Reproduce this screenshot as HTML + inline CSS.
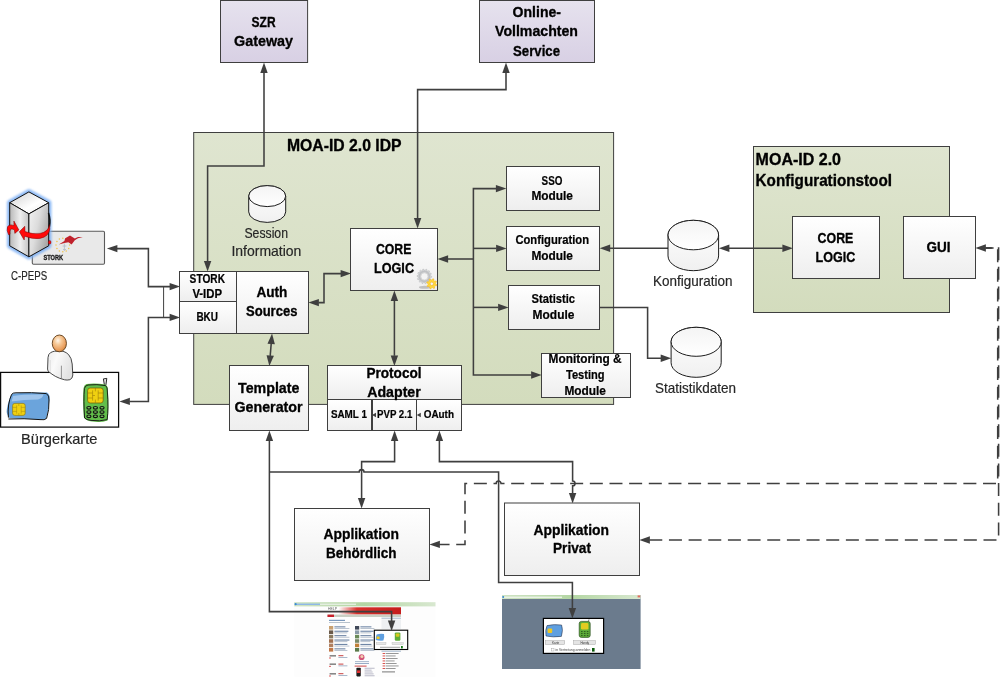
<!DOCTYPE html>
<html lang="de">
<head>
<meta charset="utf-8">
<title>MOA-ID 2.0 Architektur</title>
<style>
html,body{margin:0;padding:0;background:#fff;}
body{width:1000px;height:678px;overflow:hidden;}
svg{display:block;font-family:"Liberation Sans",sans-serif;}
svg text{opacity:.999}
</style>
</head>
<body>
<svg width="1000" height="678" viewBox="0 0 1000 678">
<defs>
<linearGradient id="ggreen" x1="0" y1="0" x2="0" y2="1"><stop offset="0" stop-color="#dfe5d0"/><stop offset="1" stop-color="#d3dcbd"/></linearGradient>
<linearGradient id="gpurple" x1="0" y1="0" x2="0" y2="1"><stop offset="0" stop-color="#e6e2ee"/><stop offset="1" stop-color="#d8d0e4"/></linearGradient>
<linearGradient id="gwhite" x1="0" y1="0" x2="0" y2="1"><stop offset="0" stop-color="#ffffff"/><stop offset="1" stop-color="#eeeeee"/></linearGradient>
<linearGradient id="gcyl" x1="0" y1="0" x2="0" y2="1"><stop offset="0" stop-color="#ffffff"/><stop offset="1" stop-color="#f0f0f0"/></linearGradient>
<linearGradient id="gcylt" x1="0" y1="0" x2="0" y2="1"><stop offset="0" stop-color="#f4f4f4"/><stop offset="1" stop-color="#ffffff"/></linearGradient>
<linearGradient id="gsrvtop" x1="0" y1="0" x2="1" y2="1"><stop offset="0" stop-color="#cfcfcf"/><stop offset="0.6" stop-color="#ffffff"/><stop offset="1" stop-color="#e8e8e8"/></linearGradient>
<linearGradient id="gsrvl" x1="0" y1="0" x2="1" y2="0"><stop offset="0" stop-color="#b8b8b8"/><stop offset="0.55" stop-color="#efefef"/><stop offset="1" stop-color="#c4c4c4"/></linearGradient>
<linearGradient id="gsrvr" x1="0" y1="0" x2="1" y2="0.6"><stop offset="0" stop-color="#f4f4f4"/><stop offset="0.5" stop-color="#dcdcdc"/><stop offset="1" stop-color="#a8a8a8"/></linearGradient>
<linearGradient id="gbody" x1="0" y1="0" x2="1" y2="0.4"><stop offset="0" stop-color="#ececec"/><stop offset="0.4" stop-color="#fafafa"/><stop offset="1" stop-color="#e2e2e2"/></linearGradient>
<radialGradient id="ghead" cx="0.4" cy="0.33" r="0.72"><stop offset="0" stop-color="#fff6ea"/><stop offset="0.35" stop-color="#f6c896"/><stop offset="0.75" stop-color="#eaa060"/><stop offset="1" stop-color="#d08236"/></radialGradient>
<linearGradient id="gchrome" x1="0" y1="0" x2="1" y2="0"><stop offset="0" stop-color="#cfe3c4"/><stop offset="0.5" stop-color="#b4d6a4"/><stop offset="1" stop-color="#d8e8d0"/></linearGradient>
<linearGradient id="gred" x1="0" y1="0" x2="1" y2="0"><stop offset="0.15" stop-color="#ffffff"/><stop offset="0.4" stop-color="#d8302c"/><stop offset="1" stop-color="#c41c1c"/></linearGradient>
<filter id="fglow" x="-30%" y="-30%" width="160%" height="160%"><feGaussianBlur stdDeviation="1.3"/></filter>
<filter id="fsoft" x="-30%" y="-60%" width="160%" height="220%"><feGaussianBlur stdDeviation="0.6"/></filter>
</defs>
<rect width="1000" height="678" fill="#fff"/>
<rect x="193.7" y="132.5" width="419.9" height="271.9" fill="url(#ggreen)" stroke="#3f3f3f" stroke-width="1" />
<rect x="753.5" y="146.5" width="196.0" height="166.0" fill="url(#ggreen)" stroke="#3f3f3f" stroke-width="1" />
<rect x="220.5" y="0.5" width="87.1" height="62.0" fill="url(#gpurple)" stroke="#3f3f3f" stroke-width="1" />
<rect x="479.5" y="0.5" width="115.0" height="62.0" fill="url(#gpurple)" stroke="#3f3f3f" stroke-width="1" />
<g id="storkbox">
<rect x="32.3" y="231.3" width="72.2" height="33" rx="1.2" fill="#e9e9e9" stroke="#5a5a5a" stroke-width="1.1"/>
<circle cx="62.80" cy="238.20" r="0.75" fill="#f0c24a"/>
<circle cx="66.20" cy="239.11" r="0.75" fill="#f0c24a"/>
<circle cx="68.69" cy="241.60" r="0.75" fill="#f0c24a"/>
<circle cx="69.60" cy="245.00" r="0.75" fill="#f0c24a"/>
<circle cx="68.69" cy="248.40" r="0.75" fill="#f0c24a"/>
<circle cx="66.20" cy="250.89" r="0.75" fill="#f0c24a"/>
<circle cx="62.80" cy="251.80" r="0.75" fill="#f0c24a"/>
<circle cx="59.40" cy="250.89" r="0.75" fill="#f0c24a"/>
<circle cx="56.91" cy="248.40" r="0.75" fill="#f0c24a"/>
<circle cx="56.00" cy="245.00" r="0.75" fill="#f0c24a"/>
<circle cx="56.91" cy="241.60" r="0.75" fill="#f0c24a"/>
<circle cx="59.40" cy="239.11" r="0.75" fill="#f0c24a"/>
<path d="M64.4 243.5 V251 M62.6 246 H66.4 M63 249.5 H66" stroke="#b8c0cc" stroke-width="0.9" fill="none"/>
<path d="M82.8 237 L78 237 L74.8 238.6 L70 235.4 L65.2 238.2 L64.4 241 L58.8 244.6 L64.4 243 L68.4 242.2 L71.6 244.6 L74.8 240.2 L78 238.2 Z" fill="#c0212c"/>
<text x="43.4" y="259.7" font-size="6.9" font-weight="700" fill="#1a1a1a" stroke="#1a1a1a" stroke-width="0.3" textLength="19.8" lengthAdjust="spacingAndGlyphs">STORK</text>
</g>
<g id="server">
<polygon points="28.9,191.9 48.7,202.7 48.7,245.8 28.9,256.8 9.7,245.8 9.7,202.7" fill="#7aaef4" stroke="#7aaef4" stroke-width="5.4" stroke-linejoin="round" filter="url(#fglow)" opacity="0.85"/>
<polygon points="28.9,191.9 48.7,202.7 28.9,213.9 9.7,202.7" fill="url(#gsrvtop)" stroke="#111" stroke-width="1" stroke-linejoin="round"/>
<polygon points="9.7,202.7 28.9,213.9 28.9,256.8 9.7,245.8" fill="url(#gsrvl)" stroke="#111" stroke-width="1" stroke-linejoin="round"/>
<polygon points="28.9,213.9 48.7,202.7 48.7,245.8 28.9,256.8" fill="url(#gsrvr)" stroke="#111" stroke-width="1" stroke-linejoin="round"/>
<path d="M48.5 213 Q50.8 220 49.4 226.5" fill="none" stroke="#111" stroke-width="1.6"/>
<path d="M49.5 224.6 Q48.5 232 40 233.4 Q32 234.4 25 231.6 L24.8 226.3 L19.3 231.7 L24.2 240 L24.6 236.2 Q32 239.4 40 238.4 Q49 236.6 49.8 229 Z" fill="#ff0a0a" stroke="#700" stroke-width="0.5"/>
<path d="M8.6 234.8 Q6.2 230 7.6 226.6 Q9.6 223.8 13.9 225.6 L13.9 221 L18.9 229.9 L14.8 233.4 L14.4 229.8 Q11.4 228.2 10.4 229.6 Q9.6 231.6 10 234.2 Z" fill="#ff0a0a" stroke="#700" stroke-width="0.5"/>
<ellipse cx="49.7" cy="242.3" rx="1.3" ry="1.9" fill="#f01010" stroke="#700" stroke-width="0.4"/>
</g>
<rect x="0.6" y="372.4" width="118" height="54.7" fill="#fff" stroke="#0a0a0a" stroke-width="1.25"/>
<g id="person">
<path d="M48 357.6 Q48.2 354 50.6 352.6 Q53 351.4 54.6 351.2 L63 351.2 Q66.5 352.4 68.6 354.6 Q71.6 358 72.2 364 L72.8 375 Q72.6 378.6 69.9 379.7 Q67 380.4 64.6 379.8 Q59 378.4 55.3 376.3 Q51.5 374 49.4 372.2 Q47.4 371 47.6 369 Z" fill="url(#gbody)" stroke="#333" stroke-width="0.9"/>
<path d="M61.4 365.7 V378.6" stroke="#6a6a6a" stroke-width="0.7" fill="none"/>
<path d="M50.2 360 V371.6" stroke="#d0d0d0" stroke-width="0.6" fill="none"/>
<ellipse cx="59.35" cy="343.4" rx="7.1" ry="8.4" fill="url(#ghead)" stroke="#5e3c1a" stroke-width="0.9"/>
</g>
<g id="card">
<path d="M12.4 393.6 Q30 392 47 392.6 Q50.2 394.6 49.6 399.4 Q48.8 410 46 419 Q28 419.6 9.4 418 Q6 414 6.8 409.6 Q8.6 399 12.4 393.6 Z" fill="#6ba4dc"/>
<path d="M13 396 Q26 394.2 43.6 394.6 Q42 399 38 399.4 Q24 399.6 11.6 401.4 Z" fill="#a9cbee" opacity="0.85"/>
<path d="M8.4 417.6 Q7.2 404 11.6 394.4 Q13 392.6 16 392.8 Q32 392.2 46.4 393.6 Q49.4 395.4 49 400 Q49.4 410 46.6 418.4 Q45 420.4 40 419.6 Q24 418.2 8.4 419" fill="none" stroke="#111" stroke-width="1"/>
<rect x="12.6" y="403.4" width="12.6" height="12" rx="2.2" fill="#f0d010" stroke="#8a7208" stroke-width="0.6"/>
<path d="M12.6 407.4 H16.6 M12.6 411.4 H16.6 M21.2 407.4 H25.2 M21.2 411.4 H25.2 M16.6 405.4 V413.6 M21.2 405.4 V413.6 M18.8 403.4 V406 M18.8 413 V415.4" stroke="#a88a0c" stroke-width="0.5" fill="none"/>
</g>
<g id="phone">
<path d="M104.4 385 L103.4 378.9 L106.8 378.4 L105.9 385" fill="#e4e4e4" stroke="#111" stroke-width="0.9"/>
<path d="M86.4 384 Q95 382.6 105.4 384.6 Q108.2 386 108 392 Q109 408 107.6 420.4 Q101 423 92 421.6 Q85.6 420.6 83.8 417 Q82.6 400 83.6 388 Q84 384.8 86.4 384 Z" fill="#62be4a"/>
<path d="M84.6 418 Q83.4 400 84.4 388.6 Q85 385.4 88 385 Q97 384 105.6 385.6 Q107.6 387 107.4 392 Q108.6 408 107.2 419.6 Q100 421.6 91 420.4 Q86 419.8 84.6 418 Z" fill="none" stroke="#111" stroke-width="0.9"/>
<rect x="87.6" y="388" width="15.6" height="15" rx="2.6" fill="#f0d010" stroke="#6a5a08" stroke-width="0.7"/>
<path d="M87.6 393 H92.6 M87.6 398 H92.6 M98.2 393 H103.2 M98.2 398 H103.2 M92.6 390.4 V400.6 M98.2 390.4 V400.6 M95.4 388 V391.4 M95.4 399.6 V403 M92.6 395.5 H95" stroke="#94780a" stroke-width="0.55" fill="none"/>
<ellipse cx="88.9" cy="407.8" rx="2.1" ry="1.3" fill="#7cc460" stroke="#111" stroke-width="1.1"/>
<ellipse cx="95.4" cy="407.8" rx="2.1" ry="1.3" fill="#7cc460" stroke="#111" stroke-width="1.1"/>
<ellipse cx="102" cy="407.8" rx="2.1" ry="1.3" fill="#7cc460" stroke="#111" stroke-width="1.1"/>
<ellipse cx="88.9" cy="412.1" rx="2.1" ry="1.3" fill="#7cc460" stroke="#111" stroke-width="1.1"/>
<ellipse cx="95.4" cy="412.1" rx="2.1" ry="1.3" fill="#7cc460" stroke="#111" stroke-width="1.1"/>
<ellipse cx="102" cy="412.1" rx="2.1" ry="1.3" fill="#7cc460" stroke="#111" stroke-width="1.1"/>
<ellipse cx="88.9" cy="416.3" rx="2.1" ry="1.3" fill="#7cc460" stroke="#111" stroke-width="1.1"/>
<ellipse cx="95.4" cy="416.3" rx="2.1" ry="1.3" fill="#7cc460" stroke="#111" stroke-width="1.1"/>
<ellipse cx="102" cy="416.3" rx="2.1" ry="1.3" fill="#7cc460" stroke="#111" stroke-width="1.1"/>
</g>
<g id="shot1">
<rect x="294.2" y="602.2" width="141.3" height="74.6" fill="#fdfdfd"/>
<rect x="294.2" y="602.2" width="141.3" height="4.2" fill="url(#gchrome)"/>
<rect x="296" y="603.6" width="24" height="1.4" fill="#8fb8e8"/>
<rect x="320" y="603.6" width="36" height="1.4" fill="#e4eee0"/>
<circle cx="295.6" cy="604.2" r="1.1" fill="#3a8ad0"/>
<rect x="327.5" y="607.3" width="73.5" height="7.2" fill="url(#gred)"/>
<text x="328" y="610.3" font-size="3.6" fill="#555" textLength="9" lengthAdjust="spacingAndGlyphs">HELP</text>
<rect x="327.5" y="614.6" width="73.5" height="2.4" fill="#c9cfc4"/>
<rect x="327.5" y="614.6" width="6.5" height="2.4" fill="#c8202a"/>
<rect x="329" y="619.8" width="16" height="1.2" fill="#7a98bc"/>
<rect x="329" y="622" width="21" height="1" fill="#b8c2cc"/>
<rect x="329" y="626.0" width="4.2" height="3.6" fill="#c9a070"/>
<rect x="334.4" y="626.3" width="11" height="1.1" fill="#6f86a6"/>
<rect x="334.4" y="628.0" width="15" height="0.9" fill="#b4becb"/>
<rect x="355" y="626.0" width="4.2" height="3.6" fill="#404858"/>
<rect x="360.4" y="626.3" width="11" height="1.1" fill="#6f86a6"/>
<rect x="360.4" y="628.0" width="14" height="0.9" fill="#b4becb"/>
<rect x="329" y="630.4" width="4.2" height="3.6" fill="#6a5a4a"/>
<rect x="334.4" y="630.7" width="14" height="1.1" fill="#6f86a6"/>
<rect x="334.4" y="632.4" width="13" height="0.9" fill="#b4becb"/>
<rect x="355" y="630.4" width="4.2" height="3.6" fill="#8a9aa8"/>
<rect x="360.4" y="630.7" width="13" height="1.1" fill="#6f86a6"/>
<rect x="360.4" y="632.4" width="11" height="0.9" fill="#b4becb"/>
<rect x="329" y="634.8" width="4.2" height="3.6" fill="#8a7a60"/>
<rect x="334.4" y="635.1" width="12" height="1.1" fill="#6f86a6"/>
<rect x="334.4" y="636.8" width="15" height="0.9" fill="#b4becb"/>
<rect x="355" y="634.8" width="4.2" height="3.6" fill="#6a8a58"/>
<rect x="360.4" y="635.1" width="11" height="1.1" fill="#6f86a6"/>
<rect x="360.4" y="636.8" width="13" height="0.9" fill="#b4becb"/>
<rect x="329" y="639.2" width="4.2" height="3.6" fill="#a07050"/>
<rect x="334.4" y="639.5" width="15" height="1.1" fill="#6f86a6"/>
<rect x="334.4" y="641.2" width="13" height="0.9" fill="#b4becb"/>
<rect x="355" y="639.2" width="4.2" height="3.6" fill="#7a8a6a"/>
<rect x="360.4" y="639.5" width="13" height="1.1" fill="#6f86a6"/>
<rect x="360.4" y="641.2" width="10" height="0.9" fill="#b4becb"/>
<rect x="329" y="643.6" width="4.2" height="3.6" fill="#b08060"/>
<rect x="334.4" y="643.9" width="13" height="1.1" fill="#6f86a6"/>
<rect x="334.4" y="645.6" width="15" height="0.9" fill="#b4becb"/>
<rect x="355" y="643.6" width="4.2" height="3.6" fill="#c08038"/>
<rect x="360.4" y="643.9" width="11" height="1.1" fill="#6f86a6"/>
<rect x="360.4" y="645.6" width="12" height="0.9" fill="#b4becb"/>
<rect x="329" y="648.0" width="4.2" height="3.6" fill="#c07848"/>
<rect x="334.4" y="648.3" width="11" height="1.1" fill="#6f86a6"/>
<rect x="334.4" y="650.0" width="13" height="0.9" fill="#b4becb"/>
<rect x="355" y="648.0" width="4.2" height="3.6" fill="#5a7a4a"/>
<rect x="360.4" y="648.3" width="13" height="1.1" fill="#6f86a6"/>
<rect x="360.4" y="650.0" width="14" height="0.9" fill="#b4becb"/>
<rect x="381.5" y="617.6" width="19.5" height="1.3" fill="#b9c7d8"/>
<rect x="381.5" y="619.4" width="19.5" height="9.6" fill="#eef0f2"/>
<rect x="381.5" y="650.6" width="19.5" height="1.3" fill="#b9c7d8"/>
<rect x="382.6" y="653.0" width="2.4" height="0.9" fill="#d8403c"/>
<rect x="385.6" y="653.0" width="13" height="0.9" fill="#8c8c8c"/>
<rect x="382.6" y="655.5" width="2.4" height="0.9" fill="#d8403c"/>
<rect x="385.6" y="655.5" width="10" height="0.9" fill="#8c8c8c"/>
<rect x="382.6" y="658.0" width="2.4" height="0.9" fill="#d8403c"/>
<rect x="385.6" y="658.0" width="12" height="0.9" fill="#8c8c8c"/>
<rect x="382.6" y="660.5" width="2.4" height="0.9" fill="#d8403c"/>
<rect x="385.6" y="660.5" width="9" height="0.9" fill="#8c8c8c"/>
<rect x="382.6" y="663.0" width="2.4" height="0.9" fill="#d8403c"/>
<rect x="385.6" y="663.0" width="11" height="0.9" fill="#8c8c8c"/>
<rect x="382.6" y="665.5" width="2.4" height="0.9" fill="#d8403c"/>
<rect x="385.6" y="665.5" width="13" height="0.9" fill="#8c8c8c"/>
<rect x="382.6" y="668.0" width="2.4" height="0.9" fill="#d8403c"/>
<rect x="385.6" y="668.0" width="10" height="0.9" fill="#8c8c8c"/>
<rect x="382" y="671.4" width="13" height="1" fill="#777"/>
<rect x="329.6" y="655" width="6.4" height="1.6" fill="#888"/>
<rect x="329.4" y="657.4" width="1.2" height="1.2" fill="#d02020"/>
<rect x="338.4" y="655.2" width="5" height="1" fill="#c84040"/>
<rect x="338.4" y="657" width="9" height="0.9" fill="#9fb0c6"/>
<rect x="329.6" y="663.4" width="6.4" height="1.6" fill="#888"/>
<rect x="329.4" y="665.8" width="1.2" height="1.2" fill="#d02020"/>
<rect x="338.4" y="663.6" width="5" height="1" fill="#c84040"/>
<rect x="338.4" y="665.4" width="9" height="0.9" fill="#9fb0c6"/>
<rect x="329.6" y="673" width="6.4" height="1.6" fill="#888"/>
<rect x="329.4" y="675.4" width="1.2" height="1.2" fill="#d02020"/>
<rect x="338.4" y="673.2" width="5" height="1" fill="#c84040"/>
<rect x="338.4" y="675" width="9" height="0.9" fill="#9fb0c6"/>
<circle cx="361.6" cy="657.2" r="2.9" fill="#d2557a"/>
<circle cx="361.9" cy="656.6" r="1.5" fill="#f4d0b0"/>
<rect x="355" y="661.2" width="14" height="0.9" fill="#9fb0c6"/>
<rect x="355" y="663" width="14" height="0.9" fill="#8fa4c0"/>
<rect x="354.6" y="665.6" width="12" height="1" fill="#d04848"/>
<rect x="356.4" y="667.8" width="4.4" height="8.6" rx="0.8" fill="#1c1c1c"/>
<rect x="357" y="670.4" width="3.2" height="2.6" fill="#e03030"/>
<rect x="364.6" y="667.8" width="10" height="0.8" fill="#aab"/>
<rect x="364.6" y="669.7" width="7" height="0.8" fill="#aab"/>
<rect x="364.6" y="671.6" width="8" height="0.8" fill="#aab"/>
<rect x="364.6" y="673.5" width="9" height="0.8" fill="#aab"/>
<rect x="364.6" y="675.4" width="10" height="0.8" fill="#aab"/>
<rect x="374.3" y="630.2" width="33.4" height="19.3" fill="#fff" stroke="#000" stroke-width="1.1"/>
<path d="M376.6 634.6 Q380 633.4 384 634 Q384.8 637 383.4 640.6 Q379 641 375.8 640 Q375.6 637 376.6 634.6Z" fill="#5f9fe0"/>
<rect x="376.6" y="636.4" width="3" height="2.6" rx="0.6" fill="#f0c820"/>
<rect x="394.8" y="632.4" width="5.6" height="8.4" rx="1.2" fill="#5fae3a"/>
<rect x="395.8" y="633.4" width="3.6" height="3.4" rx="0.8" fill="#d8c820"/>
<rect x="376.4" y="642.4" width="9.6" height="2.3" fill="#e6e6e6" stroke="#aaa" stroke-width="0.3"/>
<rect x="392" y="642.4" width="11.4" height="2.3" fill="#e6e6e6" stroke="#aaa" stroke-width="0.3"/>
<rect x="380" y="646.8" width="20" height="0.9" fill="#9a9a9a"/>
<rect x="401" y="646" width="1.8" height="2.4" fill="#1a7a1a"/>
</g>
<g id="shot2">
<rect x="502" y="595" width="138.6" height="74" fill="#6b7b8d"/>
<rect x="502" y="595" width="138.6" height="4" fill="url(#gchrome)"/>
<rect x="504" y="596.6" width="58" height="1.3" fill="#eef4ea"/>
<rect x="637.6" y="595.4" width="2.6" height="2" fill="#e07060"/>
<circle cx="503.2" cy="597" r="1" fill="#3a8ad0"/>
<rect x="543.4" y="618.4" width="60.2" height="35" fill="#fff" stroke="#000" stroke-width="1.2"/>
<path d="M547 625.6 Q554 624 561.6 625 Q563.4 630 561.4 636.4 Q553 637.6 546 636 Q545 630 547 625.6Z" fill="#5f9fe0" stroke="#223" stroke-width="0.5"/>
<rect x="547.6" y="628.6" width="4.6" height="4.4" rx="1" fill="#f0c820"/>
<path d="M588.4 621.4 L589 619.4" stroke="#222" stroke-width="0.6"/>
<rect x="579.2" y="621.4" width="11" height="16" rx="2.2" fill="#5fae3a" stroke="#1a3a10" stroke-width="0.6"/>
<rect x="581" y="623" width="7.4" height="6.6" rx="1.4" fill="#e2cc20"/>
<path d="M581 631.6 H588.4" stroke="#24501a" stroke-width="0.9" stroke-dasharray="1.6 1.3"/>
<path d="M581 633.6 H588.4" stroke="#24501a" stroke-width="0.9" stroke-dasharray="1.6 1.3"/>
<path d="M581 635.6 H588.4" stroke="#24501a" stroke-width="0.9" stroke-dasharray="1.6 1.3"/>
<rect x="545.2" y="640.6" width="19.6" height="4" fill="#e4e4e4" stroke="#999" stroke-width="0.4"/>
<rect x="573.4" y="640.6" width="22" height="4" fill="#e4e4e4" stroke="#999" stroke-width="0.4"/>
<text x="552" y="643.9" font-size="3" fill="#333">Karte</text>
<text x="580.4" y="643.9" font-size="3" fill="#333">Handy</text>
<rect x="551.6" y="648.6" width="2.4" height="2.4" fill="#fff" stroke="#999" stroke-width="0.4"/>
<text x="555.4" y="651.2" font-size="3.4" fill="#444" textLength="35" lengthAdjust="spacingAndGlyphs">in Vertretung anmelden</text>
<rect x="592" y="648" width="2.6" height="3.6" fill="#0d5a0d"/>
</g>
<polygon points="264.0,62.4 267.7,72.9 260.3,72.9" fill="#3f3f3f"/>
<polygon points="207.6,271.6 203.9,261.1 211.3,261.1" fill="#3f3f3f"/>
<path d="M264.0 72.5 L264 166 L207.6 166 L207.6 261.5" fill="none" stroke="#3f3f3f" stroke-width="1.55" stroke-linejoin="miter"/>
<polygon points="506.0,62.4 509.7,72.9 502.3,72.9" fill="#3f3f3f"/>
<polygon points="417.6,228.6 413.9,218.1 421.3,218.1" fill="#3f3f3f"/>
<path d="M506.0 72.5 L506 89.6 L417.6 89.6 L417.6 218.5" fill="none" stroke="#3f3f3f" stroke-width="1.55" stroke-linejoin="miter"/>
<polygon points="106.9,248.6 117.4,244.9 117.4,252.3" fill="#3f3f3f"/>
<polygon points="180.1,286.6 169.6,290.3 169.6,282.9" fill="#3f3f3f"/>
<path d="M117.0 248.6 L148.4 248.6 L148.4 286.6 L170.0 286.6" fill="none" stroke="#3f3f3f" stroke-width="1.55" stroke-linejoin="miter"/>
<polygon points="119.4,401.4 129.9,397.7 129.9,405.1" fill="#3f3f3f"/>
<polygon points="180.1,317.4 169.6,321.1 169.6,313.7" fill="#3f3f3f"/>
<path d="M129.5 401.4 L148.4 401.4 L148.4 317.4 L170.0 317.4" fill="none" stroke="#3f3f3f" stroke-width="1.55" stroke-linejoin="miter"/>
<path d="M163.6 286.6 L163.6 317.4" fill="none" stroke="#3f3f3f" stroke-width="1" stroke-linejoin="miter"/>
<polygon points="308.4,302.6 318.9,298.9 318.9,306.3" fill="#3f3f3f"/>
<polygon points="351.1,273.6 340.6,277.3 340.6,269.9" fill="#3f3f3f"/>
<path d="M318.5 302.6 L324 302.6 L324 273.6 L341.0 273.6" fill="none" stroke="#3f3f3f" stroke-width="1.55" stroke-linejoin="miter"/>
<polygon points="272.05,333.6 274.86,344.37 267.49,343.76" fill="#3f3f3f"/>
<polygon points="269.35,365.9 266.54,355.13 273.91,355.74" fill="#3f3f3f"/>
<path d="M271.21 343.67 L270.19 355.83" fill="none" stroke="#3f3f3f" stroke-width="1.55" stroke-linejoin="miter"/>
<polygon points="437.6,259.0 448.1,255.3 448.1,262.7" fill="#3f3f3f"/>
<path d="M447.7 259.0 L473.4 259" fill="none" stroke="#3f3f3f" stroke-width="1.55" stroke-linejoin="miter"/>
<polygon points="506.4,188.6 495.9,192.3 495.9,184.9" fill="#3f3f3f"/>
<polygon points="541.6,375.0 531.1,378.7 531.1,371.3" fill="#3f3f3f"/>
<path d="M496.3 188.6 L473.4 188.6 L473.4 375 L531.5 375.0" fill="none" stroke="#3f3f3f" stroke-width="1.55" stroke-linejoin="miter"/>
<polygon points="506.6,248.4 496.1,252.1 496.1,244.7" fill="#3f3f3f"/>
<path d="M473.4 248.4 L496.5 248.4" fill="none" stroke="#3f3f3f" stroke-width="1.55" stroke-linejoin="miter"/>
<polygon points="508.6,307.4 498.1,311.1 498.1,303.7" fill="#3f3f3f"/>
<path d="M473.4 307.4 L498.5 307.4" fill="none" stroke="#3f3f3f" stroke-width="1.55" stroke-linejoin="miter"/>
<polygon points="599.7,248.2 610.2,244.5 610.2,251.9" fill="#3f3f3f"/>
<path d="M609.8 248.2 L668 248.2" fill="none" stroke="#3f3f3f" stroke-width="1.55" stroke-linejoin="miter"/>
<polygon points="718.9,248.2 729.4,244.5 729.4,251.9" fill="#3f3f3f"/>
<polygon points="792.9,248.2 782.4,251.9 782.4,244.5" fill="#3f3f3f"/>
<path d="M729.0 248.2 L782.8 248.2" fill="none" stroke="#3f3f3f" stroke-width="1.55" stroke-linejoin="miter"/>
<polygon points="671.2,358.2 660.7,361.9 660.7,354.5" fill="#3f3f3f"/>
<path d="M599.5 307.4 L647.6 307.4 L647.6 358.2 L661.1 358.2" fill="none" stroke="#3f3f3f" stroke-width="1.55" stroke-linejoin="miter"/>
<polygon points="394.4,290.4 398.1,300.9 390.7,300.9" fill="#3f3f3f"/>
<polygon points="394.4,365.9 390.7,355.4 398.1,355.4" fill="#3f3f3f"/>
<path d="M394.4 300.5 L394.4 355.8" fill="none" stroke="#3f3f3f" stroke-width="1.55" stroke-linejoin="miter"/>
<polygon points="269.4,430.4 273.1,440.9 265.7,440.9" fill="#3f3f3f"/>
<path d="M269.4 440.5 L269.4 472" fill="none" stroke="#3f3f3f" stroke-width="1.55" stroke-linejoin="miter"/>
<polygon points="391.6,631.0 387.9,620.5 395.3,620.5" fill="#3f3f3f"/>
<path d="M269.4 472 L269.4 611.6 L391.6 611.6 L391.6 620.9" fill="none" stroke="#3f3f3f" stroke-width="1.55" stroke-linejoin="miter"/>
<path d="M269.4 472 H359.2 A2.4 2.4 0 0 1 364 472 H498.6 V582.4 H572.4 V609" fill="none" stroke="#3f3f3f" stroke-width="1.55"/>
<polygon points="572.4,618.4 568.7,607.9 576.1,607.9" fill="#3f3f3f"/>
<polygon points="394.6,430.4 398.3,440.9 390.9,440.9" fill="#3f3f3f"/>
<polygon points="361.6,508.4 357.9,497.9 365.3,497.9" fill="#3f3f3f"/>
<path d="M394.6 440.5 L394.6 461.6 L361.6 461.6 L361.6 498.3" fill="none" stroke="#3f3f3f" stroke-width="1.55" stroke-linejoin="miter"/>
<path d="M439.4 440 V461.6 H572.6 V481 A2.4 2.4 0 0 1 572.6 485.8 V494" fill="none" stroke="#3f3f3f" stroke-width="1.55"/>
<polygon points="439.4,430.4 443.1,440.9 435.7,440.9" fill="#3f3f3f"/>
<polygon points="572.6,503.4 568.9,492.9 576.3,492.9" fill="#3f3f3f"/>
<path d="M986 248 H997.7 V483.4 H501 A2.4 2.4 0 0 0 496.2 483.4 H465 V544.4 H439" fill="none" stroke="#3f3f3f" stroke-width="1.55" stroke-dasharray="13 6.66" stroke-dashoffset="6.8"/>
<polygon points="429.4,544.4 439.9,540.7 439.9,548.1" fill="#3f3f3f"/>
<path d="M986 248 H998.6 V540 H649" fill="none" stroke="#3f3f3f" stroke-width="1.55" stroke-dasharray="13 6.66" stroke-dashoffset="7.86"/>
<polygon points="639.4,540.0 649.9,536.3 649.9,543.7" fill="#3f3f3f"/>
<polygon points="975.4,248.0 985.9,244.3 985.9,251.7" fill="#3f3f3f"/>
<path d="M985 248 L993.6 248" fill="none" stroke="#3f3f3f" stroke-width="1.55" stroke-linejoin="miter"/>
<rect x="179.5" y="271.5" width="57.0" height="30.0" fill="url(#gwhite)" stroke="#3f3f3f" stroke-width="1" />
<rect x="179.5" y="301.5" width="57.0" height="32.0" fill="url(#gwhite)" stroke="#3f3f3f" stroke-width="1" />
<rect x="236.5" y="271.5" width="72.0" height="62.0" fill="url(#gwhite)" stroke="#3f3f3f" stroke-width="1" />
<rect x="350.5" y="228.5" width="87.0" height="62.0" fill="url(#gwhite)" stroke="#3f3f3f" stroke-width="1" />
<rect x="506.5" y="166.5" width="93.0" height="44.0" fill="url(#gwhite)" stroke="#3f3f3f" stroke-width="1" />
<rect x="506.5" y="226.5" width="93.0" height="44.0" fill="url(#gwhite)" stroke="#3f3f3f" stroke-width="1" />
<rect x="508.5" y="285.5" width="91.0" height="44.0" fill="url(#gwhite)" stroke="#3f3f3f" stroke-width="1" />
<rect x="541.5" y="353.5" width="89.0" height="44.0" fill="url(#gwhite)" stroke="#3f3f3f" stroke-width="1" />
<rect x="229.5" y="365.5" width="79.0" height="65.0" fill="url(#gwhite)" stroke="#3f3f3f" stroke-width="1" />
<rect x="327.5" y="365.5" width="134.0" height="34.0" fill="url(#gwhite)" stroke="#3f3f3f" stroke-width="1" />
<rect x="327.5" y="399.5" width="44.0" height="31.0" fill="url(#gwhite)" stroke="#3f3f3f" stroke-width="1" />
<rect x="372.5" y="399.5" width="44.0" height="31.0" fill="url(#gwhite)" stroke="#3f3f3f" stroke-width="1" />
<rect x="416.5" y="399.5" width="45.0" height="31.0" fill="url(#gwhite)" stroke="#3f3f3f" stroke-width="1" />
<rect x="792.5" y="216.5" width="87.0" height="62.0" fill="url(#gwhite)" stroke="#3f3f3f" stroke-width="1" />
<rect x="903.5" y="216.5" width="72.0" height="62.0" fill="url(#gwhite)" stroke="#3f3f3f" stroke-width="1" />
<rect x="294.5" y="508.5" width="135.0" height="72.0" fill="url(#gwhite)" stroke="#3f3f3f" stroke-width="1" />
<rect x="504.5" y="503" width="135.0" height="72.5" fill="url(#gwhite)" stroke="#3f3f3f" stroke-width="1" />
<g id="gear">
<ellipse cx="424.6" cy="287.2" rx="5.6" ry="1.5" fill="#9a9a9a" opacity="0.55" filter="url(#fsoft)"/>
<path d="M431.80 276.40 L431.75 277.23 L430.35 277.76 L430.16 278.41 L431.07 279.61 L430.67 280.34 L429.17 280.20 L428.71 280.71 L429.01 282.19 L428.34 282.67 L427.05 281.90 L426.41 282.16 L426.05 283.61 L425.23 283.75 L424.40 282.50 L423.72 282.46 L422.75 283.61 L421.96 283.38 L421.75 281.90 L421.15 281.57 L419.79 282.19 L419.17 281.63 L419.63 280.20 L419.23 279.65 L417.73 279.61 L417.42 278.84 L418.45 277.76 L418.34 277.08 L417.00 276.40 L417.05 275.57 L418.45 275.04 L418.64 274.39 L417.73 273.19 L418.13 272.46 L419.63 272.60 L420.09 272.09 L419.79 270.61 L420.46 270.13 L421.75 270.90 L422.39 270.64 L422.75 269.19 L423.57 269.05 L424.40 270.30 L425.08 270.34 L426.05 269.19 L426.84 269.42 L427.05 270.90 L427.65 271.23 L429.01 270.61 L429.63 271.17 L429.17 272.60 L429.57 273.15 L431.07 273.19 L431.38 273.96 L430.35 275.04 L430.46 275.72Z" fill="#d4d6d8" stroke="#b4b6b8" stroke-width="0.5"/>
<circle cx="424.4" cy="276.4" r="5" fill="none" stroke="#bfc1c4" stroke-width="1.6"/>
<circle cx="424.4" cy="276.4" r="3.6" fill="#f4f4f4" stroke="#c8c8c8" stroke-width="0.6"/>
<path d="M436.90 284.83 L436.60 285.81 L434.87 285.87 L434.41 286.43 L434.67 288.13 L433.77 288.61 L432.51 287.43 L431.79 287.50 L430.77 288.90 L429.79 288.60 L429.73 286.87 L429.17 286.41 L427.47 286.67 L426.99 285.77 L428.17 284.51 L428.10 283.79 L426.70 282.77 L427.00 281.79 L428.73 281.73 L429.19 281.17 L428.93 279.47 L429.83 278.99 L431.09 280.17 L431.81 280.10 L432.83 278.70 L433.81 279.00 L433.87 280.73 L434.43 281.19 L436.13 280.93 L436.61 281.83 L435.43 283.09 L435.50 283.81Z" fill="#ffd83a" stroke="#f0b020" stroke-width="0.5" stroke-linejoin="round"/>
<circle cx="431.8" cy="283.8" r="1.7" fill="#f2f2fa" stroke="#f0b020" stroke-width="0.6"/>
</g>
<polygon points="372.0,415.0 376.0,412.8 376.0,417.2" fill="#3f3f3f"/>
<polygon points="416.8,415.0 420.8,412.8 420.8,417.2" fill="#3f3f3f"/>
<path d="M248.7 196.1 V211.9 A18.5 10.5 0 0 0 285.7 211.9 V196.1 A18.5 10.5 0 0 0 248.7 196.1 Z" fill="url(#gcyl)" stroke="#1c1c1c" stroke-width="1"/>
<ellipse cx="267.2" cy="196.1" rx="18.5" ry="10.5" fill="url(#gcylt)" stroke="#1c1c1c" stroke-width="1"/>
<path d="M668 235.05 V255.95 A25.30000000000001 14.75 0 0 0 718.6 255.95 V235.05 A25.30000000000001 14.75 0 0 0 668 235.05 Z" fill="url(#gcyl)" stroke="#1c1c1c" stroke-width="1"/>
<ellipse cx="693.3" cy="235.05" rx="25.30000000000001" ry="14.75" fill="url(#gcylt)" stroke="#1c1c1c" stroke-width="1"/>
<path d="M671.1 341.8 V362.8 A25.05000000000001 14.5 0 0 0 721.2 362.8 V341.8 A25.05000000000001 14.5 0 0 0 671.1 341.8 Z" fill="url(#gcyl)" stroke="#1c1c1c" stroke-width="1"/>
<ellipse cx="696.1500000000001" cy="341.8" rx="25.05000000000001" ry="14.5" fill="url(#gcylt)" stroke="#1c1c1c" stroke-width="1"/>
<g opacity="0.999">
<text x="251.6" y="26.8" font-size="15.2" font-weight="700" fill="#000" stroke="#000" stroke-width="0.34" stroke-linejoin="round" textLength="24.0" lengthAdjust="spacingAndGlyphs">SZR</text>
<text x="234" y="46.0" font-size="15.2" font-weight="700" fill="#000" stroke="#000" stroke-width="0.34" stroke-linejoin="round" textLength="59" lengthAdjust="spacingAndGlyphs">Gateway</text>
<text x="512.6" y="17.0" font-size="15.2" font-weight="700" fill="#000" stroke="#000" stroke-width="0.34" stroke-linejoin="round" textLength="48.4" lengthAdjust="spacingAndGlyphs">Online-</text>
<text x="495" y="36.4" font-size="15.2" font-weight="700" fill="#000" stroke="#000" stroke-width="0.34" stroke-linejoin="round" textLength="83" lengthAdjust="spacingAndGlyphs">Vollmachten</text>
<text x="513" y="55.6" font-size="15.2" font-weight="700" fill="#000" stroke="#000" stroke-width="0.34" stroke-linejoin="round" textLength="47" lengthAdjust="spacingAndGlyphs">Service</text>
<text x="286.9" y="151.4" font-size="15.9" font-weight="700" fill="#000" stroke="#000" stroke-width="0.34" stroke-linejoin="round" textLength="114.7" lengthAdjust="spacingAndGlyphs">MOA-ID 2.0 IDP</text>
<text x="755.6" y="165.4" font-size="15.9" font-weight="700" fill="#000" stroke="#000" stroke-width="0.34" stroke-linejoin="round" textLength="85.4" lengthAdjust="spacingAndGlyphs">MOA-ID 2.0</text>
<text x="755.6" y="185.8" font-size="15.9" font-weight="700" fill="#000" stroke="#000" stroke-width="0.34" stroke-linejoin="round" textLength="136.4" lengthAdjust="spacingAndGlyphs">Konfigurationstool</text>
<text x="376" y="254.4" font-size="15.2" font-weight="700" fill="#000" stroke="#000" stroke-width="0.34" stroke-linejoin="round" textLength="35.4" lengthAdjust="spacingAndGlyphs">CORE</text>
<text x="374" y="273.4" font-size="15.2" font-weight="700" fill="#000" stroke="#000" stroke-width="0.34" stroke-linejoin="round" textLength="40" lengthAdjust="spacingAndGlyphs">LOGIC</text>
<text x="817.6" y="243.0" font-size="15.2" font-weight="700" fill="#000" stroke="#000" stroke-width="0.34" stroke-linejoin="round" textLength="35.8" lengthAdjust="spacingAndGlyphs">CORE</text>
<text x="815.6" y="262.0" font-size="15.2" font-weight="700" fill="#000" stroke="#000" stroke-width="0.34" stroke-linejoin="round" textLength="39.8" lengthAdjust="spacingAndGlyphs">LOGIC</text>
<text x="926.4" y="252.0" font-size="15.2" font-weight="700" fill="#000" stroke="#000" stroke-width="0.34" stroke-linejoin="round" textLength="24.0" lengthAdjust="spacingAndGlyphs">GUI</text>
<text x="541.6" y="184.8" font-size="12.4" font-weight="700" fill="#000" stroke="#000" stroke-width="0.22" stroke-linejoin="round" textLength="20.8" lengthAdjust="spacingAndGlyphs">SSO</text>
<text x="531.4" y="200.4" font-size="12.4" font-weight="700" fill="#000" stroke="#000" stroke-width="0.22" stroke-linejoin="round" textLength="41.6" lengthAdjust="spacingAndGlyphs">Module</text>
<text x="515.4" y="244.4" font-size="12.4" font-weight="700" fill="#000" stroke="#000" stroke-width="0.22" stroke-linejoin="round" textLength="73.6" lengthAdjust="spacingAndGlyphs">Configuration</text>
<text x="531.4" y="260.0" font-size="12.4" font-weight="700" fill="#000" stroke="#000" stroke-width="0.22" stroke-linejoin="round" textLength="41.6" lengthAdjust="spacingAndGlyphs">Module</text>
<text x="531.6" y="303.4" font-size="12.4" font-weight="700" fill="#000" stroke="#000" stroke-width="0.22" stroke-linejoin="round" textLength="43.4" lengthAdjust="spacingAndGlyphs">Statistic</text>
<text x="532.6" y="319.4" font-size="12.4" font-weight="700" fill="#000" stroke="#000" stroke-width="0.22" stroke-linejoin="round" textLength="41.8" lengthAdjust="spacingAndGlyphs">Module</text>
<text x="548.6" y="363.4" font-size="12.4" font-weight="700" fill="#000" stroke="#000" stroke-width="0.22" stroke-linejoin="round" textLength="73.0" lengthAdjust="spacingAndGlyphs">Monitoring &amp;</text>
<text x="566" y="379.0" font-size="12.4" font-weight="700" fill="#000" stroke="#000" stroke-width="0.22" stroke-linejoin="round" textLength="38.6" lengthAdjust="spacingAndGlyphs">Testing</text>
<text x="564.4" y="394.8" font-size="12.4" font-weight="700" fill="#000" stroke="#000" stroke-width="0.22" stroke-linejoin="round" textLength="41.6" lengthAdjust="spacingAndGlyphs">Module</text>
<text x="189.6" y="283.0" font-size="11.9" font-weight="700" fill="#000" stroke="#000" stroke-width="0.22" stroke-linejoin="round" textLength="35.4" lengthAdjust="spacingAndGlyphs">STORK</text>
<text x="192.4" y="298.4" font-size="11.9" font-weight="700" fill="#000" stroke="#000" stroke-width="0.22" stroke-linejoin="round" textLength="29.6" lengthAdjust="spacingAndGlyphs">V-IDP</text>
<text x="196.4" y="321.4" font-size="11.9" font-weight="700" fill="#000" stroke="#000" stroke-width="0.22" stroke-linejoin="round" textLength="21.6" lengthAdjust="spacingAndGlyphs">BKU</text>
<text x="256.4" y="297.0" font-size="15.2" font-weight="700" fill="#000" stroke="#000" stroke-width="0.34" stroke-linejoin="round" textLength="31.0" lengthAdjust="spacingAndGlyphs">Auth</text>
<text x="246" y="316.4" font-size="15.2" font-weight="700" fill="#000" stroke="#000" stroke-width="0.34" stroke-linejoin="round" textLength="51.4" lengthAdjust="spacingAndGlyphs">Sources</text>
<text x="238" y="393.4" font-size="15.2" font-weight="700" fill="#000" stroke="#000" stroke-width="0.34" stroke-linejoin="round" textLength="61.4" lengthAdjust="spacingAndGlyphs">Template</text>
<text x="234.4" y="412.4" font-size="15.2" font-weight="700" fill="#000" stroke="#000" stroke-width="0.34" stroke-linejoin="round" textLength="68.2" lengthAdjust="spacingAndGlyphs">Generator</text>
<text x="366.4" y="377.6" font-size="15.2" font-weight="700" fill="#000" stroke="#000" stroke-width="0.34" stroke-linejoin="round" textLength="55.2" lengthAdjust="spacingAndGlyphs">Protocol</text>
<text x="367.2" y="396.8" font-size="15.2" font-weight="700" fill="#000" stroke="#000" stroke-width="0.34" stroke-linejoin="round" textLength="53.6" lengthAdjust="spacingAndGlyphs">Adapter</text>
<text x="330.9" y="418.4" font-size="11.3" font-weight="700" fill="#000" stroke="#000" stroke-width="0.22" stroke-linejoin="round" textLength="36.0" lengthAdjust="spacingAndGlyphs">SAML 1</text>
<text x="377" y="418.4" font-size="11.3" font-weight="700" fill="#000" stroke="#000" stroke-width="0.22" stroke-linejoin="round" textLength="35.3" lengthAdjust="spacingAndGlyphs">PVP 2.1</text>
<text x="423.7" y="418.4" font-size="11.3" font-weight="700" fill="#000" stroke="#000" stroke-width="0.22" stroke-linejoin="round" textLength="30.3" lengthAdjust="spacingAndGlyphs">OAuth</text>
<text x="323.4" y="539.4" font-size="15.2" font-weight="700" fill="#000" stroke="#000" stroke-width="0.34" stroke-linejoin="round" textLength="75.6" lengthAdjust="spacingAndGlyphs">Applikation</text>
<text x="326" y="558.4" font-size="15.2" font-weight="700" fill="#000" stroke="#000" stroke-width="0.34" stroke-linejoin="round" textLength="70.6" lengthAdjust="spacingAndGlyphs">Behördlich</text>
<text x="533.4" y="534.8" font-size="15.2" font-weight="700" fill="#000" stroke="#000" stroke-width="0.34" stroke-linejoin="round" textLength="75.6" lengthAdjust="spacingAndGlyphs">Applikation</text>
<text x="553" y="553.4" font-size="15.2" font-weight="700" fill="#000" stroke="#000" stroke-width="0.34" stroke-linejoin="round" textLength="38" lengthAdjust="spacingAndGlyphs">Privat</text>
<text x="244.4" y="238.1" font-size="13.9" font-weight="400" fill="#262626" stroke="#262626" stroke-width="0.18" textLength="43.6" lengthAdjust="spacingAndGlyphs">Session</text>
<text x="231.4" y="255.8" font-size="13.9" font-weight="400" fill="#262626" stroke="#262626" stroke-width="0.18" textLength="70.0" lengthAdjust="spacingAndGlyphs">Information</text>
<text x="653" y="286.4" font-size="14.2" font-weight="400" fill="#262626" stroke="#262626" stroke-width="0.18" textLength="79.4" lengthAdjust="spacingAndGlyphs">Konfiguration</text>
<text x="655" y="392.5" font-size="14.2" font-weight="400" fill="#262626" stroke="#262626" stroke-width="0.18" textLength="81" lengthAdjust="spacingAndGlyphs">Statistikdaten</text>
<text x="21" y="443.5" font-size="14.8" font-weight="400" fill="#262626" stroke="#262626" stroke-width="0.18" textLength="76.4" lengthAdjust="spacingAndGlyphs">Bürgerkarte</text>
<text x="11.1" y="280.0" font-size="12.4" font-weight="400" fill="#262626" stroke="#262626" stroke-width="0.18" textLength="36.1" lengthAdjust="spacingAndGlyphs">C-PEPS</text>
</g>
</svg>
</body>
</html>
